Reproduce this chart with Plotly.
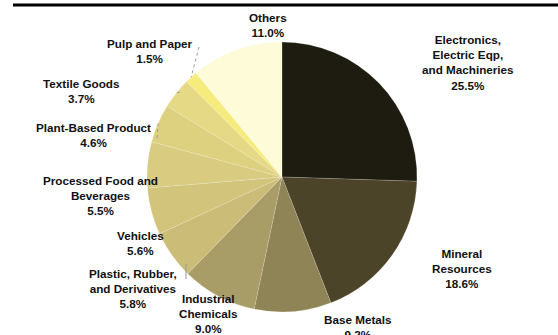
import math
import plotly.graph_objects as go

W, H = 558, 335

# Export shares by product group (%)
categories = [
    "Electronics,<br>Electric Eqp,<br>and Machineries",
    "Mineral<br>Resources",
    "Base Metals",
    "Industrial<br>Chemicals",
    "Plastic, Rubber,<br>and Derivatives",
    "Vehicles",
    "Processed Food and<br>Beverages",
    "Plant-Based Product",
    "Textile Goods",
    "Pulp and Paper",
    "Others",
]
shares = [25.5, 18.6, 9.2, 9.0, 5.8, 5.6, 5.5, 4.6, 3.7, 1.5, 11.0]
colors = [
    "#1e1b10", "#4b4429", "#8e8455", "#a99d67", "#cbbc78", "#d3c47c",
    "#d9cb80", "#ddd07f", "#e6d985", "#f6ec7e", "#fefbd8",
]

# label centres in pixels (x, y)
label_pos = [
    (468, 62), (462, 268), (358, 327), (208, 313), (133, 288), (140, 243),
    (100, 195), (93, 135), (81, 91), (150, 51), (268, 25),
]

CX, CY, R = 282, 177, 135


def px(x):
    return x / W


def py(y):
    return 1 - y / H


fig = go.Figure(
    go.Pie(
        labels=[c.replace("<br>", " ") for c in categories],
        values=shares,
        sort=False,
        direction="clockwise",
        rotation=0,
        marker=dict(colors=colors, line=dict(width=0.6, color="rgba(255,255,255,0.25)")),
        textinfo="none",
        hoverinfo="skip",
        showlegend=False,
        domain=dict(x=[px(CX - R), px(CX + R)], y=[py(CY + R), py(CY - R)]),
    )
)

annotations = []
for name, val, (lx, ly) in zip(categories, shares, label_pos):
    annotations.append(
        dict(
            x=px(lx), y=py(ly), xref="paper", yref="paper",
            text=f"<b>{name}<br>{val:.1f}%</b>",
            showarrow=False, xanchor="center", yanchor="middle",
            font=dict(family="Liberation Sans, Arial, sans-serif", size=11.7, color="#111111"),
        )
    )


def edge_point(idx, frac=0.5):
    start = sum(shares[:idx])
    mid = (start + shares[idx] * frac) / sum(shares)
    ang = 2 * math.pi * mid
    return CX + R * math.sin(ang), CY - R * math.cos(ang)


shapes = [
    # rule across the top
    dict(type="line", xref="paper", yref="paper", x0=px(13), x1=1, y0=py(5), y1=py(5),
         line=dict(color="#000000", width=3)),
    # small tick beside the plastics label
    dict(type="line", xref="paper", yref="paper", x0=px(186), x1=px(186),
         y0=py(264), y1=py(279), line=dict(color="#9a9a9a", width=1)),
]

# leader lines from small-slice labels to the pie edge
leaders = {9: (199, 47), 8: (180, 92), 7: (157, 138)}
for idx, (sx, sy) in leaders.items():
    ex, ey = edge_point(idx)
    shapes.append(dict(type="line", xref="paper", yref="paper",
                       x0=px(sx), y0=py(sy), x1=px(ex), y1=py(ey),
                       line=dict(color="#9a9a9a", width=1, dash="dot")))

fig.update_layout(
    width=W, height=H,
    margin=dict(l=0, r=0, t=0, b=0),
    paper_bgcolor="white", plot_bgcolor="white",
    annotations=annotations,
    shapes=shapes,
)

fig.write_html("out.html")
